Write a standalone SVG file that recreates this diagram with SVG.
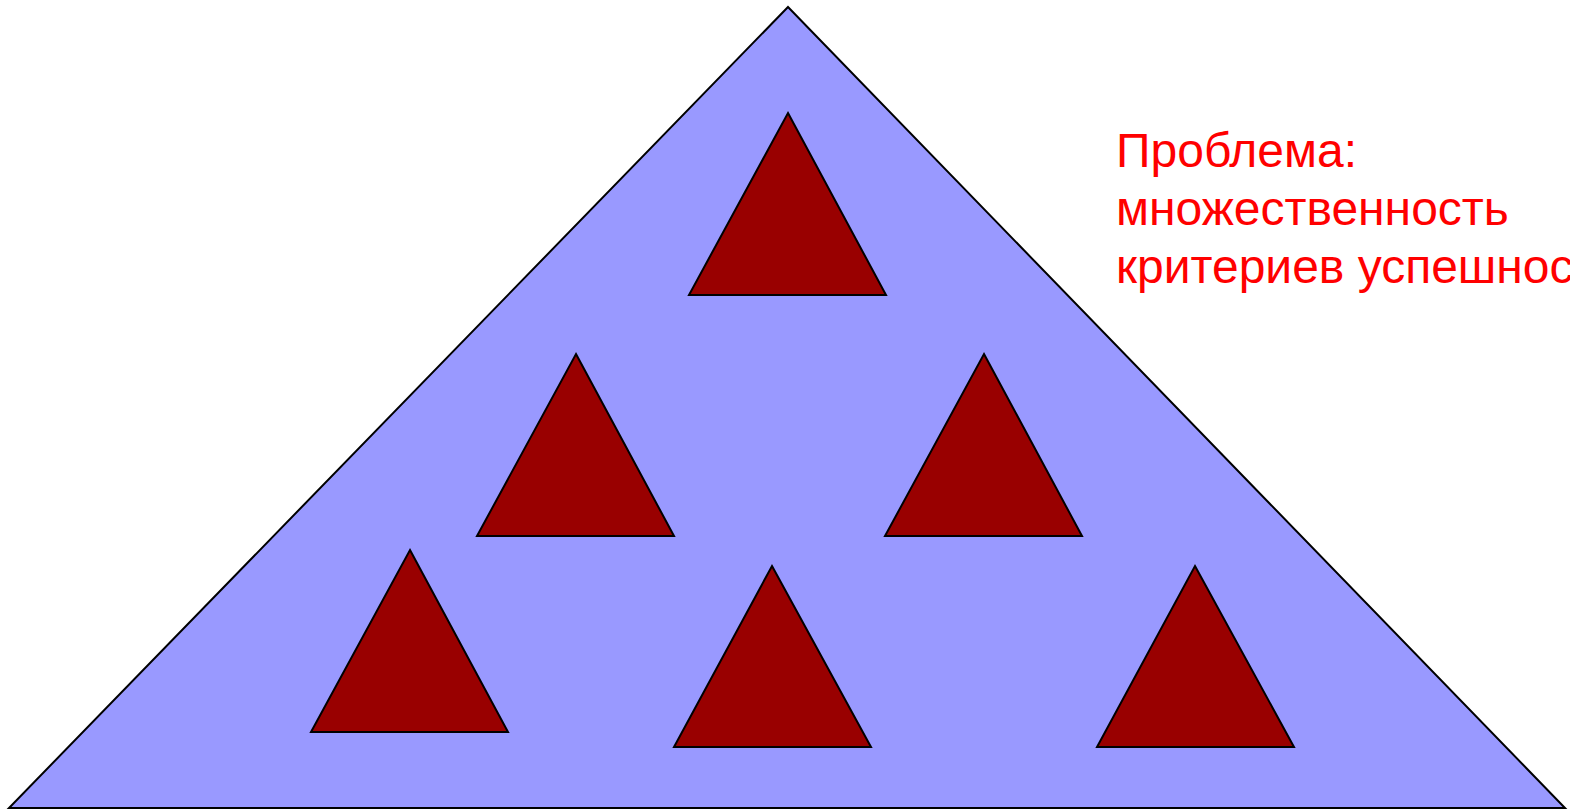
<svg xmlns="http://www.w3.org/2000/svg" width="1570" height="811" viewBox="0 0 1570 811">
<style>
.big{fill:#9999ff;stroke:#000;stroke-width:2}
.small{fill:#990000;stroke:#000;stroke-width:2}
.lbl{font-family:"Liberation Sans",Arial,sans-serif;font-size:48px;fill:#ff0000}
</style>
<rect width="1570" height="811" fill="#fff"/>
<g id="pyramid"><polygon class="big" points="788,7 1565,808 9,808"/></g>
<g id="t1"><polygon class="small" points="788,113 886,295 689,295"/></g>
<g id="t2"><polygon class="small" points="576,354 674,536 477,536"/></g>
<g id="t3"><polygon class="small" points="984,354 1082,536 885,536"/></g>
<g id="t4"><polygon class="small" points="410,550 508,732 311,732"/></g>
<g id="t5"><polygon class="small" points="772,566 871,747 674,747"/></g>
<g id="t6"><polygon class="small" points="1195,566 1294,747 1097,747"/></g>
<g id="label"><text class="lbl" x="1116" y="167">Проблема:<tspan x="1116" y="225">множественность</tspan><tspan x="1116" y="283">критериев успешности</tspan></text></g>
</svg>
